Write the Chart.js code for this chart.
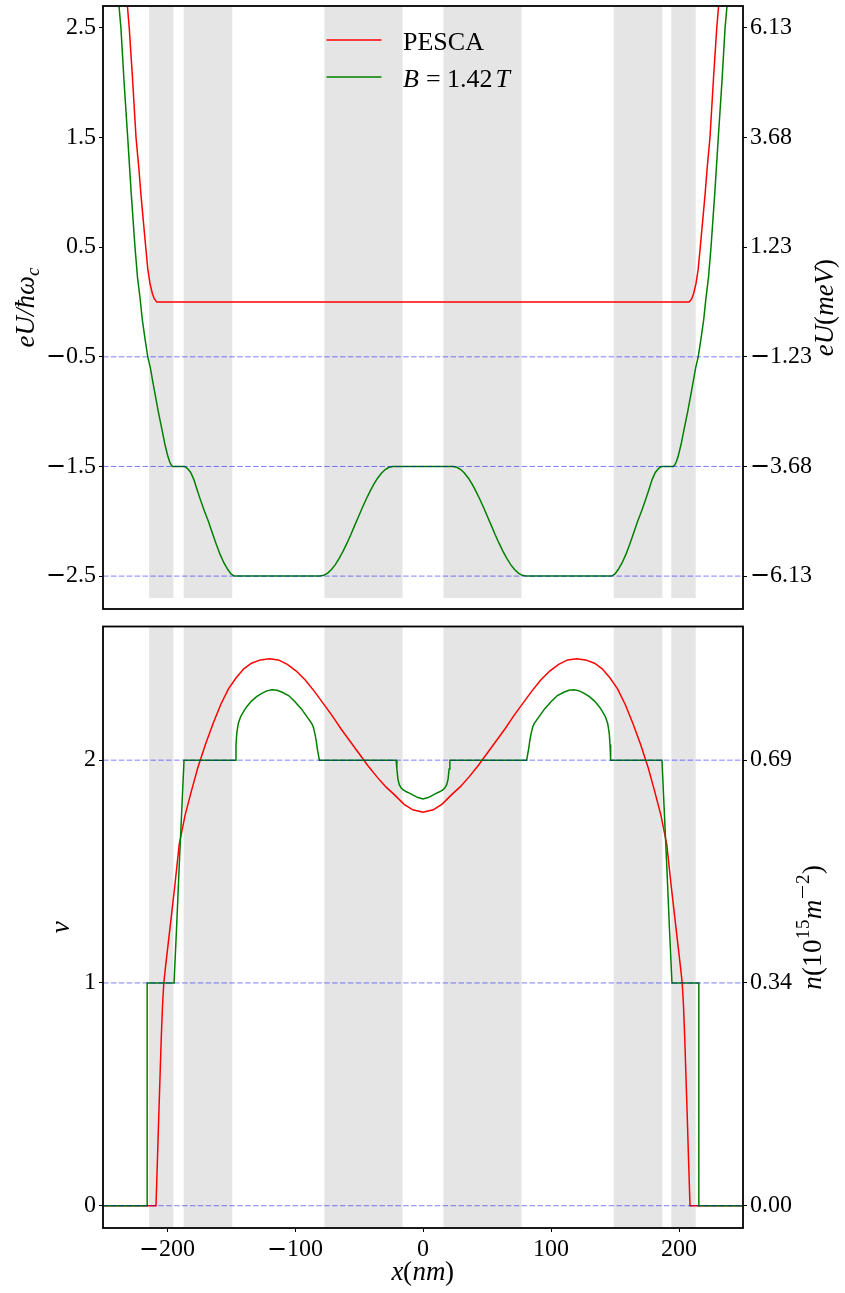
<!DOCTYPE html>
<html><head><meta charset="utf-8">
<script src="https://cdn.jsdelivr.net/npm/chart.js"></script>
<style>
@font-face { font-family: 'MixSerif'; src: local('DejaVu Serif'), local('DejaVuSerif'); unicode-range: U+2212; }
@font-face { font-family: 'MixSerif'; src: local('Liberation Serif'), local('LiberationSerif'); unicode-range: U+0000-2211, U+2213-FFFF; }
html,body{margin:0;padding:0;background:#fff;}
#wrap{position:relative;width:845px;height:1293px;overflow:hidden;}
#c1{position:absolute;left:0;top:0;}
#c2{position:absolute;left:0;top:617px;}
</style></head><body>
<div id="wrap"><canvas id="c1" width="845" height="617"></canvas><canvas id="c2" width="845" height="676"></canvas></div>
<script>
// ---------------- DATA ----------------
const xRange = [-250, 250];
const bandStarts = [-214, -187, -77, 16, 149, 194];
const bandEnds   = [-195, -149, -16, 77, 187, 213];

// top panel: potential
const topRange = [-2.8, 2.7];
const topBandFloor = -2.7;
const topTickValues = [-2.5, -1.5, -0.5, 0.5, 1.5, 2.5];
const topLeftLabels = ['\u22122.5', '\u22121.5', '\u22120.5', '0.5', '1.5', '2.5'];
const topRightLabels = ['\u22126.13', '\u22123.68', '\u22121.23', '1.23', '3.68', '6.13'];
const topLevels = [-0.5, -1.5, -2.5];

const redTopX = [-250, -240, -235, -232, -229.5, -227, -224.2, -222, -220.5, -218.5, -216.6, -215, -213.3, -211.5, -210, -208,
                 208, 210, 211.5, 213.3, 215, 216.6, 218.5, 220.5, 222, 224.2, 227, 229.5, 232, 235, 240, 250];
const redTopY = [7.0, 4.6, 3.5, 2.85, 2.5, 2.05, 1.5, 1.22, 1.0, 0.74, 0.5, 0.3, 0.17, 0.08, 0.03, 0,
                 0, 0.03, 0.08, 0.17, 0.3, 0.5, 0.74, 1.0, 1.22, 1.5, 2.05, 2.5, 2.85, 3.5, 4.6, 7.0];

const greenTopX = [-250, -243, -239.5, -237.5, -236, -233.5, -230.7, -228, -225, -223, -221, -219.3, -217, -215, -213, -211.5, -209, -206.8, -204, -201.6, -199.5, -198, -196.8, -195.5,
  -186.5, -185, -183.5, -181.5, -179, -176.8, -174, -171, -167.7, -164.5, -161.5, -158.6, -155.5, -152.5, -150, -147.4,
  -80.5, -77.5, -74.5, -71.5, -68.5, -65.5, -62.5, -59.5, -56.5, -53.5, -50.5, -47.5, -44.5, -41.5, -38.5, -35.5, -32.5, -29.5, -26.5, -23.4,
  23.4, 26.5, 29.5, 32.5, 35.5, 38.5, 41.5, 44.5, 47.5, 50.5, 53.5, 56.5, 59.5, 62.5, 65.5, 68.5, 71.5, 74.5, 77.5, 80.5,
  147.4, 150, 152.5, 155.5, 158.6, 161.5, 164.5, 167.7, 171, 174, 176.8, 179, 181.5, 183.5, 185, 186.5,
  195.5, 196.8, 198, 199.5, 201.6, 204, 206.8, 209, 211.5, 213, 215, 217, 219.3, 221, 223, 225, 228, 230.7, 233.5, 236, 237.5, 239.5, 243, 250];
const greenTopY = [6.5, 4.0, 3.0, 2.7, 2.5, 2.0, 1.5, 1.0, 0.5, 0.22, 0.03, -0.16, -0.35, -0.5, -0.6, -0.7, -0.86, -1.0, -1.16, -1.3, -1.4, -1.455, -1.485, -1.5,
  -1.5, -1.508, -1.525, -1.555, -1.62, -1.7, -1.8, -1.9, -2.0, -2.11, -2.21, -2.3, -2.38, -2.44, -2.48, -2.5,
  -2.5, -2.493, -2.473, -2.44, -2.395, -2.339, -2.274, -2.202, -2.125, -2.042, -1.961, -1.879, -1.801, -1.729, -1.663, -1.607, -1.562, -1.528, -1.507, -1.5,
  -1.5, -1.507, -1.528, -1.562, -1.607, -1.663, -1.729, -1.801, -1.879, -1.961, -2.042, -2.125, -2.202, -2.274, -2.339, -2.395, -2.44, -2.473, -2.493, -2.5,
  -2.5, -2.48, -2.44, -2.38, -2.3, -2.21, -2.11, -2.0, -1.9, -1.8, -1.7, -1.62, -1.555, -1.525, -1.508, -1.5,
  -1.5, -1.485, -1.455, -1.4, -1.3, -1.16, -1.0, -0.86, -0.7, -0.6, -0.5, -0.35, -0.16, 0.03, 0.22, 0.5, 1.0, 1.5, 2.0, 2.5, 2.7, 3.0, 4.0, 6.5];

// bottom panel: filling factor
const botRange = [-0.1, 2.6];
const botTickValues = [0, 1, 2];
const botLeftLabels = ['0', '1', '2'];
const botRightLabels = ['0.00', '0.34', '0.69'];
const botLevels = [0, 1, 2];
const xTickValues = [-200, -100, 0, 100, 200];
const xTickLabels = ['\u2212200', '\u2212100', '0', '100', '200'];

const redBotX = [-250, -208.6, -207.5, -206.5, -205.5, -204.5, -203.5, -202.5, -201, -199, -197, -194, -190.5, -186, -181, -176, -170, -164, -158, -152, -146, -140, -134, -127, -120, -113, -106, -99, -92, -85, -78, -71, -64, -57, -50, -43, -36, -29, -22, -15, -8,
  0,
  8, 15, 22, 29, 36, 43, 50, 57, 64, 71, 78, 85, 92, 99, 106, 113, 120, 127, 134, 140, 146, 152, 158, 164, 170, 176, 181, 186, 190.5, 194, 197, 199, 201, 202.5, 203.5, 204.5, 205.5, 206.5, 207.5, 208.6, 250];
const redBotY = [0, 0, 0.2, 0.39, 0.57, 0.75, 0.9, 1.0, 1.08, 1.18, 1.28, 1.43, 1.62, 1.75, 1.86, 1.965, 2.07, 2.165, 2.25, 2.32, 2.37, 2.41, 2.435, 2.45, 2.455, 2.45, 2.43, 2.4, 2.36, 2.31, 2.255, 2.2, 2.14, 2.085, 2.03, 1.975, 1.925, 1.88, 1.843, 1.803, 1.777,
  1.766,
  1.777, 1.803, 1.843, 1.88, 1.925, 1.975, 2.03, 2.085, 2.14, 2.2, 2.255, 2.31, 2.36, 2.4, 2.43, 2.45, 2.455, 2.45, 2.435, 2.41, 2.37, 2.32, 2.25, 2.165, 2.07, 1.965, 1.86, 1.75, 1.62, 1.43, 1.28, 1.18, 1.08, 1.0, 0.9, 0.75, 0.57, 0.39, 0.2, 0, 0];

const greenBotX = [-250, -215.5, -215.5, -194.5, -192.5, -190.5, -188.5, -186.7,
  -146.6, -146.1, -145.5, -144.3, -142.5, -140, -137.7, -134, -130, -126, -122, -118, -114, -110, -105, -100, -95, -90, -87, -85.7, -84.5, -83.5, -82.5, -81.6, -81,
  -21, -20.4, -19.6, -18.5, -17, -15.4, -13, -10.2, -7, -4, 0, 4, 7, 10.2, 13, 15.4, 17, 18.5, 19.6, 20.4, 21,
  81, 81.6, 82.5, 83.5, 84.5, 85.7, 87, 90, 95, 100, 105, 110, 114, 118, 122, 126, 130, 134, 137.7, 140, 142.5, 144.3, 145.5, 146.1, 146.6,
  186.7, 188.5, 190.5, 192.5, 194.5, 215.5, 215.5, 250];
const greenBotY = [0, 0, 1, 1, 1.25, 1.52, 1.77, 2.0,
  2.0, 2.07, 2.12, 2.165, 2.195, 2.22, 2.24, 2.265, 2.285, 2.3, 2.311, 2.316, 2.314, 2.305, 2.29, 2.262, 2.23, 2.19, 2.165, 2.149, 2.12, 2.09, 2.05, 2.02, 2.0,
  2.0, 1.96, 1.915, 1.89, 1.875, 1.866, 1.858, 1.851, 1.841, 1.832, 1.826, 1.832, 1.841, 1.851, 1.858, 1.866, 1.875, 1.89, 1.915, 1.96, 2.0,
  2.0, 2.02, 2.05, 2.09, 2.12, 2.149, 2.165, 2.19, 2.23, 2.262, 2.29, 2.305, 2.314, 2.316, 2.311, 2.3, 2.285, 2.265, 2.24, 2.22, 2.195, 2.165, 2.12, 2.07, 2.0,
  2.0, 1.77, 1.52, 1.25, 1, 1, 0, 0];

// ---------------- HELPERS ----------------
const FONT = '"Liberation Serif", "DejaVu Serif", serif';
const TICKFONT = 'MixSerif, "Liberation Serif", "DejaVu Serif", serif';
const tickFont = {family: TICKFONT, size: 24};
const LABEL_SIZE = 27, SMALL_SIZE = 19;
const RED = 'rgb(255,0,0)', GREEN = 'rgb(0,128,0)', DASH = 'rgba(0,0,255,0.5)';
const pts = (xs, ys) => xs.map((x, i) => ({x, y: ys[i]}));

function curve(label, xs, ys, color) {
  return {label, data: pts(xs, ys), showLine: true, borderColor: color, backgroundColor: color,
    borderWidth: 1.5, pointRadius: 0, tension: 0};
}
function level(v) {
  return {label: '_level', data: [{x: xRange[0], y: v}, {x: xRange[1], y: v}], showLine: true,
    borderColor: DASH, borderWidth: 1, borderDash: [5.5, 2.4], pointRadius: 0};
}
function yAxis(pos, range, values, labels, width) {
  return {type: 'linear', position: pos, min: range[0], max: range[1],
    afterBuildTicks: s => { s.ticks = values.map(v => ({value: v})); },
    afterFit: s => { s.width = width; s.paddingTop = 0; s.paddingBottom = 0; },
    ticks: {autoSkip: false, font: tickFont, color: '#000', padding: 3,
      callback: v => labels[values.indexOf(v)]},
    grid: {drawOnChartArea: false, drawTicks: true, tickLength: 4, color: '#000', lineWidth: 1},
    border: {display: false}};
}

const bandsPlugin = {
  id: 'bands',
  beforeDatasetsDraw(chart, args, opts) {
    const {ctx, chartArea: a, scales} = chart;
    ctx.save();
    ctx.beginPath(); ctx.rect(a.left, a.top, a.width, a.height); ctx.clip();
    ctx.fillStyle = '#e5e5e5';
    const yB = opts.floor !== undefined ? scales.y.getPixelForValue(opts.floor) : a.bottom;
    for (let i = 0; i < bandStarts.length; i++) {
      const x0 = scales.x.getPixelForValue(bandStarts[i]);
      const x1 = scales.x.getPixelForValue(bandEnds[i]);
      ctx.fillRect(x0, a.top, x1 - x0, yB - a.top);
    }
    ctx.restore();
  }
};
const framePlugin = {
  id: 'frame',
  afterDatasetsDraw(chart) {
    const {ctx, chartArea: a} = chart;
    ctx.save(); ctx.strokeStyle = '#000'; ctx.lineWidth = 1.8;
    ctx.strokeRect(a.left, a.top, a.width, a.height);
    ctx.restore();
  }
};
function drawRich(ctx, segs, cx, cy, rot) {
  ctx.save();
  ctx.translate(cx, cy); ctx.rotate(rot);
  let total = 0;
  const items = segs.map(s => {
    const font = (s.it ? 'italic ' : '') + (s.small ? SMALL_SIZE : LABEL_SIZE) + 'px ' + (s.it ? FONT : TICKFONT);
    ctx.font = font;
    const w = ctx.measureText(s.t).width;
    total += w;
    return {s, font, w};
  });
  let x = -total / 2;
  ctx.textBaseline = 'middle'; ctx.textAlign = 'left'; ctx.fillStyle = '#000';
  for (const it of items) { ctx.font = it.font; ctx.fillText(it.s.t, x, it.s.dy || 0); x += it.w; }
  ctx.restore();
}
const richPlugin = {
  id: 'rich',
  afterDraw(chart, args, opts) {
    const {ctx, chartArea: a} = chart;
    const cy = (a.top + a.bottom) / 2;
    for (const L of (opts.labels || [])) {
      if (L.rot) drawRich(ctx, L.segs, L.x, cy, -Math.PI / 2);
      else drawRich(ctx, L.segs, (a.left + a.right) / 2, L.y, 0);
    }
  }
};
const legendPlugin = {
  id: 'legendBox',
  afterDatasetsDraw(chart, args, opts) {
    const {ctx, chartArea: a} = chart;
    const cx = (a.left + a.right) / 2;
    for (const e of opts.entries) {
      const ds = chart.data.datasets.find(d => d.label === e.label);
      const y = a.top + e.dy;
      ctx.save();
      ctx.strokeStyle = ds.borderColor; ctx.lineWidth = 1.5;
      ctx.beginPath(); ctx.moveTo(cx - 96.5, y); ctx.lineTo(cx - 41.5, y); ctx.stroke();
      ctx.fillStyle = '#000'; ctx.textBaseline = 'alphabetic'; ctx.textAlign = 'left';
      for (const s of e.segs) {
        ctx.font = (s.it ? 'italic ' : '') + '26px ' + FONT;
        ctx.fillText(s.t, cx + s.dx, y + 9.5);
      }
      ctx.restore();
    }
  }
};

function build() {
  // ---------------- TOP CHART ----------------
  new Chart(document.getElementById('c1'), {
    type: 'scatter',
    data: {datasets: [
      ...topLevels.map(level),
      curve('B = 1.42T', greenTopX, greenTopY, GREEN),
      curve('PESCA', redTopX, redTopY, RED)
    ]},
    options: {
      responsive: false, animation: false, events: [],
      layout: {padding: {top: 6, bottom: 8, left: 0, right: 0}},
      scales: {
        x: {type: 'linear', min: xRange[0], max: xRange[1], display: false},
        y: yAxis('left', topRange, topTickValues, topLeftLabels, 103),
        y2: yAxis('right', topRange, topTickValues, topRightLabels, 102)
      },
      plugins: {
        legend: {display: false}, tooltip: {enabled: false},
        bands: {floor: topBandFloor},
        legendBox: {entries: [
          {label: 'PESCA', dy: 34, segs: [{t: 'PESCA', dx: -20}]},
          {label: 'B = 1.42T', dy: 71, segs: [{t: 'B', it: true, dx: -20}, {t: '=', dx: 3}, {t: '1.42', dx: 24}, {t: 'T', it: true, dx: 72.5}]}
        ]},
        rich: {labels: [
          {rot: true, x: 27, segs: [{t: 'eU/\u0127\u03C9', it: true}, {t: 'c', it: true, small: true, dy: 7}]},
          {rot: true, x: 826, segs: [{t: 'eU', it: true}, {t: '('}, {t: 'meV', it: true}, {t: ')'}]}
        ]}
      }
    },
    plugins: [bandsPlugin, framePlugin, richPlugin, legendPlugin]
  });

  // ---------------- BOTTOM CHART ----------------
  new Chart(document.getElementById('c2'), {
    type: 'scatter',
    data: {datasets: [
      ...botLevels.map(level),
      curve('B = 1.42T', greenBotX, greenBotY, GREEN),
      curve('PESCA', redBotX, redBotY, RED)
    ]},
    options: {
      responsive: false, animation: false, events: [],
      layout: {padding: {top: 9.5, bottom: 0, left: 0, right: 0}},
      scales: {
        x: {type: 'linear', position: 'bottom', min: xRange[0], max: xRange[1],
          afterBuildTicks: s => { s.ticks = xTickValues.map(v => ({value: v})); },
          afterFit: s => { s.height = 65; s.paddingLeft = 0; s.paddingRight = 0; },
          ticks: {autoSkip: false, maxRotation: 0, font: tickFont, color: '#000', padding: 3,
            callback: v => xTickLabels[xTickValues.indexOf(v)]},
          grid: {drawOnChartArea: false, drawTicks: true, tickLength: 4, color: '#000', lineWidth: 1},
          border: {display: false}},
        y: yAxis('left', botRange, botTickValues, botLeftLabels, 103),
        y2: yAxis('right', botRange, botTickValues, botRightLabels, 102)
      },
      plugins: {
        legend: {display: false}, tooltip: {enabled: false},
        bands: {},
        rich: {labels: [
          {rot: true, x: 62, segs: [{t: '\u03BD', it: true}]},
          {rot: true, x: 814, segs: [{t: 'n', it: true}, {t: '(10'}, {t: '15', small: true, dy: -10}, {t: 'm', it: true}, {t: '\u22122', small: true, dy: -10}, {t: ')'}]},
          {rot: false, y: 656, segs: [{t: 'x', it: true}, {t: '('}, {t: 'nm', it: true}, {t: ')'}]}
        ]}
      }
    },
    plugins: [bandsPlugin, framePlugin, richPlugin]
  });
}

Promise.all([
  document.fonts.load('24px MixSerif', '\u2212'),
  document.fonts.load('24px MixSerif', '0123456789.')
]).then(build, build);
</script></body></html>
